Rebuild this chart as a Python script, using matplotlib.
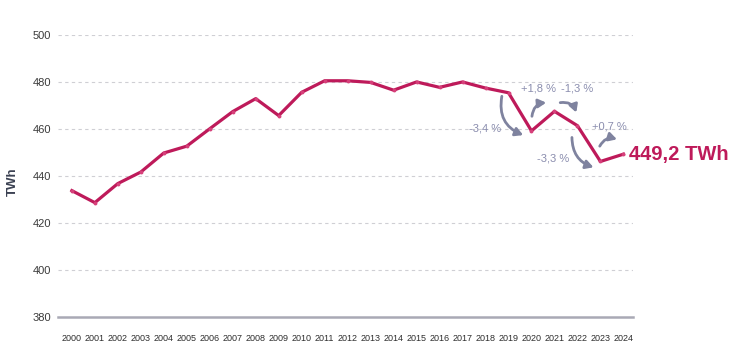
import matplotlib.pyplot as plt

# data
years = list(range(2000, 2025))
twh = [433.7, 428.6, 436.7, 441.6, 449.7, 452.6, 460.0, 467.3, 472.8, 465.6,
       475.5, 480.4, 480.4, 479.7, 476.4, 479.9, 477.6, 479.9, 477.3, 475.3,
       459.1, 467.4, 461.3, 446.1, 449.2]
y_ticks = [380, 400, 420, 440, 460, 480, 500]
last_label = "449,2 TWh"

# change labels: text, text pos, arrow start, arrow end, curvature
changes = [
    ("-3,4 %", (2017.97, 460.1), (2018.71, 473.8), (2019.64, 457.3), 0.4),
    ("+1,8 %", (2020.30, 477.0), (2020.02, 465.3), (2020.64, 471.1), -0.4),
    ("-1,3 %", (2021.98, 477.0), (2021.25, 471.1), (2021.95, 466.9), -0.4),
    ("-3,3 %", (2020.95, 447.4), (2021.76, 456.3), (2022.70, 443.6), 0.35),
    ("+0,7 %", (2023.39, 461.0), (2022.97, 452.6), (2023.72, 455.5), -0.4),
]

LINE = '#be1a5a'
NOTE = '#8a8dae'
ARROW = '#7f839f'
plt.rcParams['font.family'] = ['Liberation Sans', 'DejaVu Sans']

fig = plt.figure(figsize=(7.54, 3.61), dpi=100)
ax = fig.add_axes([0.077, 0.122, 0.762, 0.782])

ax.plot(years, twh, color=LINE, lw=2.3, marker='o', markersize=2.8,
        markerfacecolor='#d6407a', markeredgewidth=0, solid_joinstyle='round')

ax.set_xlim(1999.4, 2024.4)
ax.set_ylim(380, 500)
ax.set_xticks(years)
ax.set_xticklabels([str(y) for y in years], fontsize=6.5, color='#2e2e2e')
ax.set_yticks(y_ticks)
ax.set_yticklabels([str(v) for v in y_ticks], fontsize=8, color='#3a3a3a')
ax.tick_params(length=0, pad=5)
ax.tick_params(axis='x', pad=12)

for v in y_ticks[1:]:
    ax.axhline(v, color='#cfcfd4', lw=0.8, ls=(0, (3, 3)), zorder=0)

for s in ['top', 'right', 'left']:
    ax.spines[s].set_visible(False)
ax.spines['bottom'].set_color('#a9a9b5')
ax.spines['bottom'].set_linewidth(1.8)

ax.set_ylabel('TWh', fontsize=9.5, fontweight='bold', color='#3b4152')
ax.yaxis.set_label_coords(-0.068, 0.48)

for txt, tpos, start, end, rad in changes:
    ax.text(tpos[0], tpos[1], txt, fontsize=8, color=NOTE,
            ha='center', va='center')
    ax.annotate('', xy=end, xytext=start,
                arrowprops=dict(arrowstyle='-|>,head_length=0.45,head_width=0.25',
                                color=ARROW, lw=2.0,
                                connectionstyle='arc3,rad=%s' % rad,
                                shrinkA=0, shrinkB=0))

ax.annotate(last_label, xy=(years[-1], twh[-1]), xytext=(4, 0), textcoords='offset points',
            fontsize=14.5, fontweight='bold', color=LINE,
            va='center', ha='left', annotation_clip=False)

fig.savefig('out.png', dpi=100)
